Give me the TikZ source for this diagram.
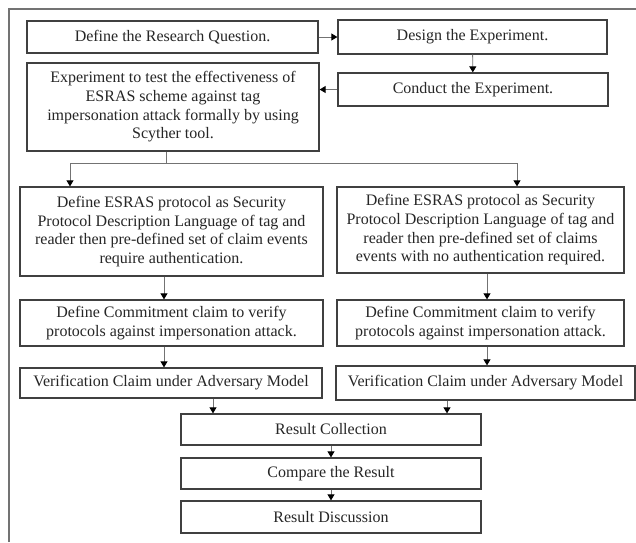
\documentclass[tikz,border=0pt]{standalone}
\usepackage{fontspec}
\setmainfont{Liberation Serif}
\usetikzlibrary{positioning,calc,arrows.meta}
\tikzset{
    every node/.style={font=\fontsize{16}{18.7}\selectfont, text=black!85},
    rectgray/.style={draw=black!75, line width=1.3pt, fill=white, align=center, inner sep=2pt},
    arrow/.style={-{Triangle[length=6pt,width=7pt,color=black]}, draw=black!55, line width=0.9pt},
    plain/.style={draw=black!55, line width=0.9pt},
    frame/.style={draw=black!55, line width=1.5pt},
}

\begin{document}
\begin{tikzpicture}[x=1pt,y=-1pt]
\useasboundingbox (0,0) rectangle (636,542);
% outer frame, cut off at the right and bottom
\draw[frame] (9,542) -- (9,9) -- (636,9);

% top row
\node[rectgray, minimum width=291pt, minimum height=32pt] (rq) at (172.5,37) {Define the Research Question.};
\node[rectgray, minimum width=269pt, minimum height=34pt] (design) at (472.5,37) {Design the Experiment.};
\node[rectgray, minimum width=270pt, minimum height=33pt] (conduct) at (473,89.5) {Conduct the Experiment.};
\node[rectgray, minimum width=292pt, minimum height=88pt] (expt) at (173,107) {Experiment to test the effectiveness of\\ESRAS scheme against tag\\impersonation attack formally by using\\Scyther tool.};
\draw[arrow] (rq) -- (design);
\draw[arrow] (design) -- (conduct);
\draw[arrow] (conduct.west) -- (conduct.west -| expt.east);

% the two branches
\node[rectgray, minimum width=303pt, minimum height=89pt] (esrasL) at (171.5,231.5) {Define ESRAS protocol as Security\\Protocol Description Language of tag and\\reader then pre-defined set of claim events\\require authentication.};
\node[rectgray, minimum width=287pt, minimum height=86pt] (esrasR) at (480.5,230) {Define ESRAS protocol as Security\\Protocol Description Language of tag and\\reader then pre-defined set of claims\\events with no authentication required.};
\node[rectgray, minimum width=303pt, minimum height=46pt] (commitL) at (171.5,323) {Define Commitment claim to verify\\protocols against impersonation attack.};
\node[rectgray, minimum width=287pt, minimum height=46pt] (commitR) at (480.5,323) {Define Commitment claim to verify\\protocols against impersonation attack.};
\node[rectgray, minimum width=302pt, minimum height=30pt] (verifL) at (171,383) {Verification Claim under Adversary Model};
\node[rectgray, minimum width=299pt, minimum height=34pt] (verifR) at (485.5,383) {Verification Claim under Adversary Model};

% split below the experiment box
\coordinate (split) at (166,163);
\coordinate (dropL) at (70,163);
\coordinate (dropR) at (517,163);
\draw[plain] (expt.south -| split) -- (split);
\draw[plain] (dropL) -- (dropR);
\draw[arrow] (dropL) -- (dropL |- esrasL.north);
\draw[arrow] (dropR) -- (dropR |- esrasR.north);

\draw[arrow] ([xshift=-7.5pt]esrasL.south) -- ([xshift=-7.5pt]commitL.north);
\draw[arrow] ([xshift=-7.5pt]commitL.south) -- ([xshift=-7pt]verifL.north);
\draw[arrow] ([xshift=6.5pt]esrasR.south) -- ([xshift=6.5pt]commitR.north);
\draw[arrow] ([xshift=6.5pt]commitR.south) -- ([xshift=1.5pt]verifR.north);

% bottom column
\node[rectgray, minimum width=300pt, minimum height=31pt] (collect) at (331,429.5) {Result Collection};
\node[rectgray, minimum width=300pt, minimum height=31pt] (compare) at (331,473.5) {Compare the Result};
\node[rectgray, minimum width=300pt, minimum height=32pt] (discuss) at (331,517) {Result Discussion};

\coordinate (inL) at ([xshift=42pt]verifL.south);
\coordinate (inR) at ([xshift=-38.5pt]verifR.south);
\draw[arrow] (inL) -- (inL |- collect.north);
\draw[arrow] (inR) -- (inR |- collect.north);
\draw[arrow] (collect) -- (compare);
\draw[arrow] (compare) -- (discuss);
\end{tikzpicture}
\end{document}
